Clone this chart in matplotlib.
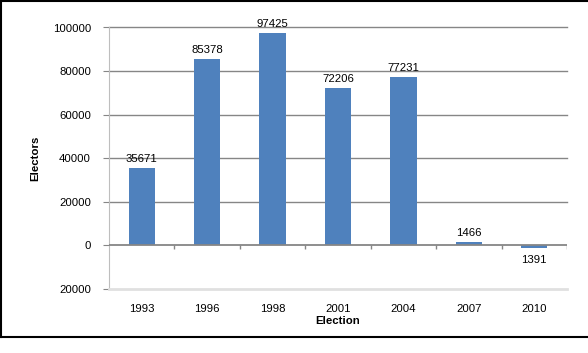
import matplotlib
matplotlib.use("Agg")
import matplotlib.pyplot as plt
from matplotlib.lines import Line2D
import numpy as np

years = ["1993", "1996", "1998", "2001", "2004", "2007", "2010"]
electors = [35671, 85378, 97425, 72206, 77231, 1466, -1391]
bar_labels = ["35671", "85378", "97425", "72206", "77231", "1466", "1391"]
y_ticks = [-20000, 0, 20000, 40000, 60000, 80000, 100000]
y_tick_labels = ["20000", "0", "20000", "40000", "60000", "80000", "100000"]

plt.rcParams['font.family'] = ['Liberation Sans', 'DejaVu Sans']
fs = 8.2
fig = plt.figure(figsize=(5.88, 3.53), dpi=100)
ax = fig.add_axes([109/588, (353-289)/353, (567-109)/588, (289-27.5)/353])

x = np.arange(len(years))
bar_color = "#4F81BD"
ax.bar(x, electors, width=0.4, color=bar_color, zorder=3)

ax.set_xlim(-0.5, len(years) - 0.5)
ax.set_ylim(-20000, 100000)
ax.set_yticks(y_ticks)
ax.set_yticklabels(y_tick_labels, fontsize=fs)
ax.set_xticks(x)
ax.set_xticklabels(years, fontsize=fs)
ax.tick_params(axis='x', length=0, pad=11)
ax.tick_params(axis='y', length=4, color="#868686", pad=9)

# gridlines
for t in y_ticks[2:]:
    ax.axhline(t, color="#868686", lw=1.0, zorder=1, clip_on=False)
# zero line with tick marks
ax.axhline(0, color="#868686", lw=1.3, zorder=4)
bounds = np.arange(len(years) + 1) - 0.5
ax.vlines(bounds[1:], 0, -1800, color="#868686", lw=1.0, zorder=4)

for s in ["top", "right"]:
    ax.spines[s].set_visible(False)
ax.spines["left"].set_color("#BEBEBE")
ax.spines["bottom"].set_color("#E0E0E0")
ax.spines["bottom"].set_linewidth(2)

for xi, v, lab in zip(x, electors, bar_labels):
    if v >= 0:
        ax.annotate(lab, (xi, v), xytext=(0, 3), textcoords="offset points",
                    ha="center", va="bottom", fontsize=fs)
    else:
        ax.annotate(lab, (xi, v), xytext=(0, -5), textcoords="offset points",
                    ha="center", va="top", fontsize=fs)

ax.set_xlabel("Election", fontsize=fs, fontweight="bold", labelpad=1)
ax.set_ylabel("Electors", fontsize=fs, fontweight="bold")
ax.yaxis.set_label_coords(-0.151, 0.5)

# outer border (top, left, bottom)
fig.add_artist(Line2D([0.5/588, 1], [1 - 1/353, 1 - 1/353], transform=fig.transFigure, color="black", lw=1.5))
fig.add_artist(Line2D([1/588, 1/588], [1 - 1/353, (353-337)/353], transform=fig.transFigure, color="black", lw=1.5))
fig.add_artist(Line2D([0.5/588, 1], [(353-337)/353, (353-337)/353], transform=fig.transFigure, color="black", lw=1.5))

fig.savefig("out.png", dpi=100)
